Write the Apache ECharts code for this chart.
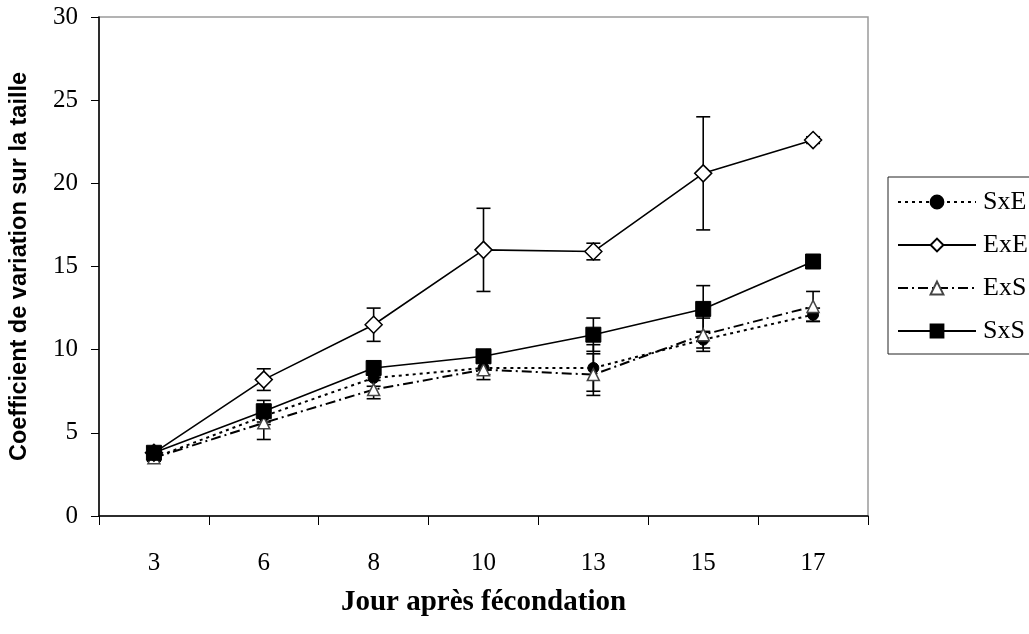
<!DOCTYPE html>
<html>
<head>
<meta charset="utf-8">
<script src="https://cdn.jsdelivr.net/npm/echarts@6/dist/echarts.min.js"></script>
<style>
  html, body { margin: 0; padding: 0; background: #fff; }
  #chart { width: 1029px; height: 634px; }
</style>
</head>
<body>
<div id="chart"></div>
<script>
// Days after fertilisation (category axis)
const days = ['3', '6', '8', '10', '13', '15', '17'];

// Coefficient of variation of size, mean and error per cross
const sxeMean = [3.5, 6.0, 8.3, 8.9, 8.9, 10.6, 12.1];
const sxeErr  = [0.2, 0.5, 0.5, 0.4, 1.4, 0.5, 0.4];

const exeMean = [3.8, 8.2, 11.5, 16.0, 15.9, 20.6, 22.6];
const exeErr  = [0.2, 0.65, 1.0, 2.5, 0.5, 3.4, 0.2];

const exsMean = [3.5, 5.6, 7.6, 8.8, 8.5, 10.9, 12.6];
const exsErr  = [0.2, 1.0, 0.55, 0.6, 1.25, 1.0, 0.9];

const sxsMean = [3.8, 6.3, 8.9, 9.6, 10.9, 12.45, 15.3];
const sxsErr  = [0.2, 0.65, 0.4, 0.4, 1.0, 1.4, 0.2];

const serif = '"Liberation Serif", "Times New Roman", serif';
const sans = '"Liberation Sans", Arial, sans-serif';

// Vertical error bar with caps, placed through the axes' own coordinates
function errorBars(name, means, errs) {
  const data = means.map((m, i) => [i, m - errs[i], m + errs[i]]);
  return {
    type: 'custom',
    name: name + ' err',
    z: 3,
    silent: true,
    data: data,
    encode: { x: 0, y: [1, 2] },
    renderItem: function (params, api) {
      const lo = api.coord([api.value(0), api.value(1)]);
      const hi = api.coord([api.value(0), api.value(2)]);
      const half = 7;
      const style = { stroke: '#000', lineWidth: 1.6 };
      return {
        type: 'group',
        children: [
          { type: 'line', shape: { x1: lo[0], y1: lo[1], x2: hi[0], y2: hi[1] }, style: style },
          { type: 'line', shape: { x1: lo[0] - half, y1: lo[1], x2: lo[0] + half, y2: lo[1] }, style: style },
          { type: 'line', shape: { x1: hi[0] - half, y1: hi[1], x2: hi[0] + half, y2: hi[1] }, style: style }
        ]
      };
    }
  };
}

const chart = echarts.init(document.getElementById('chart'), null, { renderer: 'canvas' });

chart.setOption({
  animation: false,
  backgroundColor: '#fff',
  grid: {
    left: 99, top: 17, width: 769, height: 499,
    show: true, borderColor: '#9a9a9a', borderWidth: 1.5, backgroundColor: 'transparent'
  },
  legend: {
    orient: 'vertical',
    left: 888, top: 177,
    data: ['SxE', 'ExE', 'ExS', 'SxS'],
    itemWidth: 78, itemHeight: 16, itemGap: 17,
    padding: [12, 14, 10, 9],
    borderColor: '#222', borderWidth: 1,
    textStyle: { fontFamily: serif, fontSize: 26, color: '#000', padding: [0, 0, 0, 2] }
  },
  xAxis: {
    type: 'category',
    data: days,
    boundaryGap: true,
    name: 'Jour après fécondation',
    nameLocation: 'middle',
    nameGap: 72,
    nameTextStyle: { fontFamily: serif, fontSize: 29, fontWeight: 'bold', color: '#000' },
    axisLine: { lineStyle: { color: '#000', width: 1.5 } },
    axisTick: { show: true, length: 9, alignWithLabel: false, lineStyle: { color: '#000', width: 1 } },
    axisLabel: { fontFamily: serif, fontSize: 25, color: '#000', margin: 35 },
    splitLine: { show: false }
  },
  yAxis: {
    type: 'value',
    min: 0, max: 30, interval: 5,
    name: 'Coefficient de variation sur la taille',
    nameLocation: 'middle',
    nameGap: 67,
    nameTextStyle: { fontFamily: sans, fontSize: 23.5, fontWeight: 'bold', color: '#000' },
    axisLine: { show: true, lineStyle: { color: '#000', width: 1.5 } },
    axisTick: { show: true, length: 8, lineStyle: { color: '#000', width: 1 } },
    axisLabel: { fontFamily: serif, fontSize: 25, color: '#000', margin: 21 },
    splitLine: { show: false }
  },
  series: [
    errorBars('SxE', sxeMean, sxeErr),
    errorBars('ExE', exeMean, exeErr),
    errorBars('ExS', exsMean, exsErr),
    errorBars('SxS', sxsMean, sxsErr),
    {
      name: 'SxE', type: 'line', data: sxeMean, z: 4,
      symbol: 'circle', symbolSize: 11,
      lineStyle: { color: '#000', width: 2, type: [3, 4] },
      itemStyle: { color: '#000', borderColor: '#000', borderWidth: 1 }
    },
    {
      name: 'ExE', type: 'line', data: exeMean, z: 5,
      symbol: 'diamond', symbolSize: 17,
      lineStyle: { color: '#000', width: 1.6, type: 'solid' },
      itemStyle: { color: '#fff', borderColor: '#000', borderWidth: 1.5 }
    },
    {
      name: 'ExS', type: 'line', data: exsMean, z: 4,
      symbol: 'triangle', symbolSize: 12,
      lineStyle: { color: '#000', width: 2, type: [10, 4, 2, 4] },
      itemStyle: { color: '#fff', borderColor: '#444', borderWidth: 1.5 }
    },
    {
      name: 'SxS', type: 'line', data: sxsMean, z: 6,
      symbol: 'rect', symbolSize: 15,
      lineStyle: { color: '#000', width: 1.6, type: 'solid' },
      itemStyle: { color: '#000', borderColor: '#000', borderWidth: 1 }
    }
  ]
});
</script>
</body>
</html>
